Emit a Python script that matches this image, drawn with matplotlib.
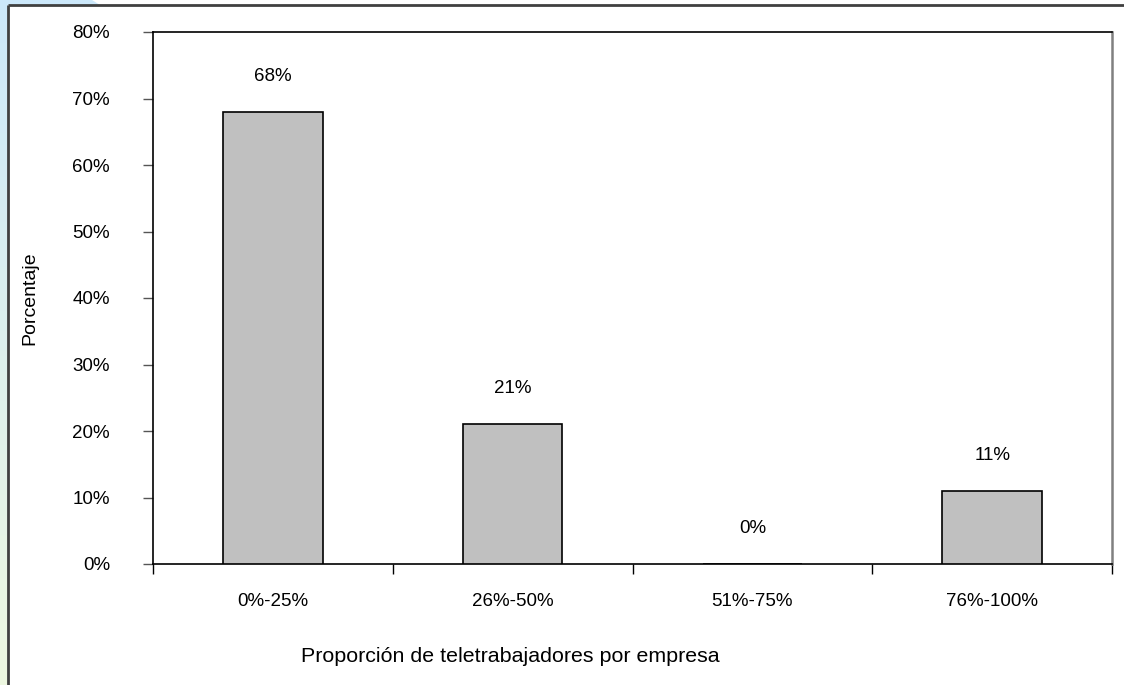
import numpy as np
import matplotlib.pyplot as plt
from matplotlib.patches import Polygon

plt.rcParams['font.family'] = ['Liberation Sans', 'DejaVu Sans']

categories = ["0%-25%", "26%-50%", "51%-75%", "76%-100%"]
values = [68, 21, 0, 11]
y_ticks = [0, 10, 20, 30, 40, 50, 60, 70, 80]

W, H = 1124, 685
fig = plt.figure(figsize=(W / 100, H / 100), dpi=100)

# slide background peeking out at the left / top
bg = fig.add_axes([0, 0, 1, 1], zorder=-10)
bg.set_xlim(0, W)
bg.set_ylim(H, 0)
bg.axis("off")
grad = np.linspace(0, 1, 256)[:, None]
top_c = np.array([0.80, 0.91, 0.98])
bot_c = np.array([0.93, 0.97, 0.88])
img = (top_c[None, None, :] * (1 - grad[:, :, None]) + bot_c[None, None, :] * grad[:, :, None])
bg.imshow(img, extent=[0, 12, H, 0], aspect="auto")
bg.add_patch(Polygon([[0, 0], [92, 0], [100, 5], [0, 5]], closed=True,
                     facecolor=top_c, edgecolor="none"))
bg.add_patch(Polygon([[8, 5], [W, 5], [W, H], [8, H]], closed=True,
                     facecolor="white", edgecolor="none"))
bg.plot([8, W], [5, 5], color="#404040", lw=2, solid_capstyle="butt")
bg.plot([8, 8], [5, H], color="#404040", lw=2, solid_capstyle="butt")

ax = fig.add_axes([153 / W, 1 - 564 / H, (1112 - 153) / W, (564 - 32) / H])
x = np.arange(len(categories))
bars = ax.bar(x, values, width=0.415, color="#C0C0C0", edgecolor="black", linewidth=1.2, zorder=3)
for xi, v in zip(x, values):
    ax.annotate(f"{v}%", (xi, v), xytext=(0, 25.5), textcoords="offset points",
                ha="center", va="center", fontsize=13.5)

ax.set_xlim(-0.5, len(categories) - 0.5)
ax.set_ylim(0, 80)
ax.set_yticks(y_ticks)
ax.set_yticklabels([f"{t}%" for t in y_ticks], fontsize=13.5)
ax.tick_params(axis="y", length=7, width=1, pad=24, color="#555555")

ax.set_xticks(np.arange(len(categories) + 1) - 0.5)
ax.set_xticklabels([])
ax.set_xticks(x, minor=True)
ax.set_xticklabels(categories, minor=True, fontsize=13.5)
ax.tick_params(axis="x", which="major", length=7, width=1, direction="out")
ax.tick_params(axis="x", which="minor", length=0, pad=21)

for side in ["left", "bottom", "top"]:
    ax.spines[side].set_color("black")
    ax.spines[side].set_linewidth(1.2)
ax.spines["right"].set_color("#808080")
ax.spines["right"].set_linewidth(1.8)

ax.set_ylabel("Porcentaje", fontsize=14, va="center")
ax.yaxis.set_label_coords((30 - 153) / (1112 - 153), 0.5)
ax.set_xlabel("Proporción de teletrabajadores por empresa", fontsize=15.4, va="center")
ax.xaxis.set_label_coords((510 - 153) / (1112 - 153), (564 - 656) / (564 - 32))

fig.savefig("out.png", dpi=100)
